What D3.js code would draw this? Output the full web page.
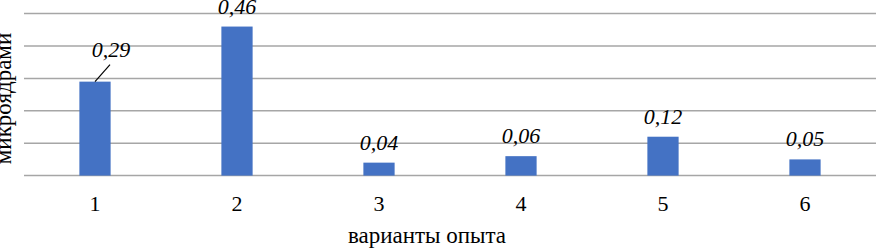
<!DOCTYPE html>
<html>
<head>
<meta charset="utf-8">
<script src="https://cdn.jsdelivr.net/npm/d3@7/dist/d3.min.js"></script>
<style>
  html, body { margin: 0; padding: 0; background: #fff; }
  svg { display: block; }
</style>
</head>
<body>
<svg id="chart" width="876" height="248" font-family="'Liberation Serif', 'DejaVu Serif', serif"></svg>
<script>
const categories = ["1", "2", "3", "4", "5", "6"];
const values = [0.29, 0.46, 0.04, 0.06, 0.12, 0.05];
const valueLabels = ["0,29", "0,46", "0,04", "0,06", "0,12", "0,05"];
const gridTicks = [0, 0.1, 0.2, 0.3, 0.4, 0.5];
const xTitle = "варианты опыта";
const yTitle = "микроядрами";

const FONT = "'Liberation Serif', 'DejaVu Serif', serif";
const svg = d3.select("#chart");
const plotLeft = 24, plotRight = 876, plotTop = 13.6, plotBottom = 175.6;

const x = d3.scaleBand().domain(categories).range([plotLeft, plotRight])
  .paddingInner(0.78).paddingOuter(0.39);
const y = d3.scaleLinear().domain([0, 0.5]).range([plotBottom, plotTop]);

// gridlines
svg.append("g").selectAll("line").data(gridTicks).join("line")
  .attr("x1", plotLeft).attr("x2", plotRight)
  .attr("y1", d => y(d)).attr("y2", d => y(d))
  .attr("stroke", "#a6a6a6").attr("stroke-width", 1.5);

// bars
svg.append("g").selectAll("rect").data(values).join("rect")
  .attr("x", (d, i) => x(categories[i]))
  .attr("y", d => y(d))
  .attr("width", x.bandwidth())
  .attr("height", d => y(0) - y(d))
  .attr("fill", "#4472c4");

// data labels
const labelShift = [{dx: 16, dy: -12}, null, null, null, null, null];
const lg = svg.append("g");
values.forEach((v, i) => {
  const cx = x(categories[i]) + x.bandwidth() / 2;
  const s = labelShift[i] || {dx: 0, dy: 0};
  lg.append("text")
    .attr("x", cx + s.dx)
    .attr("y", y(v) - 13 + s.dy)
    .attr("text-anchor", "middle")
    .attr("font-family", FONT)
    .attr("font-style", "italic")
    .attr("font-size", 22)
    .attr("fill", "#000")
    .text(valueLabels[i]);
  if (labelShift[i]) {
    lg.append("line")
      .attr("x1", cx).attr("y1", y(v))
      .attr("x2", cx + s.dx - 1).attr("y2", y(v) - 17)
      .attr("stroke", "#000").attr("stroke-width", 1.2);
  }
});

// x axis labels
const xAxis = d3.axisBottom(x).tickSize(0).tickPadding(0);
const gx = svg.append("g").attr("transform", `translate(0,${plotBottom})`).call(xAxis);
gx.attr("font-family", FONT).attr("font-size", 22);
gx.select(".domain").remove();
gx.selectAll("text")
  .attr("font-size", 22)
  .attr("font-family", FONT)
  .attr("fill", "#000")
  .attr("dy", null)
  .attr("y", 35.5);

// axis titles
svg.append("text")
  .attr("x", 427).attr("y", 243)
  .attr("text-anchor", "middle")
  .attr("font-family", FONT)
  .attr("font-size", 23)
  .attr("fill", "#000")
  .text(xTitle);

svg.append("text")
  .attr("transform", "translate(11,98.5) rotate(-90)")
  .attr("text-anchor", "middle")
  .attr("font-family", FONT)
  .attr("font-size", 23)
  .attr("fill", "#000")
  .text(yTitle);
</script>
</body>
</html>
